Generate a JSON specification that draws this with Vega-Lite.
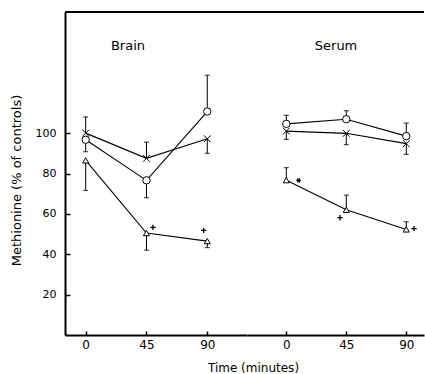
{
  "$schema": "https://vega.github.io/schema/vega-lite/v6.json",
  "background": "white",
  "padding": {"left": 10, "top": 11, "right": 0, "bottom": 0},
  "bounds": "flush",
  "config": {
    "view": {"stroke": null},
    "font": "DejaVu Sans"
  },
  "datasets": {
    "pts": [
      {"panel": "Brain", "series": "circle", "time": 0, "value": 96.7, "err": 90.8},
      {"panel": "Brain", "series": "circle", "time": 45, "value": 76.6, "err": 68},
      {"panel": "Brain", "series": "circle", "time": 90, "value": 110.7, "err": 128.7},
      {"panel": "Brain", "series": "cross", "time": 0, "value": 100, "err": 108},
      {"panel": "Brain", "series": "cross", "time": 45, "value": 87.5, "err": 95.5},
      {"panel": "Brain", "series": "cross", "time": 90, "value": 97.2, "err": 90},
      {"panel": "Brain", "series": "triangle", "time": 0, "value": 86.5, "err": 71.6},
      {"panel": "Brain", "series": "triangle", "time": 45, "value": 50.5, "err": 42},
      {"panel": "Brain", "series": "triangle", "time": 90, "value": 46.5, "err": 43.3},
      {"panel": "Serum", "series": "circle", "time": 0, "value": 104.6, "err": 108.8},
      {"panel": "Serum", "series": "circle", "time": 45, "value": 106.9, "err": 111.1},
      {"panel": "Serum", "series": "circle", "time": 90, "value": 98.5, "err": 105},
      {"panel": "Serum", "series": "cross", "time": 0, "value": 101, "err": 96.9},
      {"panel": "Serum", "series": "cross", "time": 45, "value": 99.9, "err": 94.3},
      {"panel": "Serum", "series": "cross", "time": 90, "value": 94.8, "err": 89.5},
      {"panel": "Serum", "series": "triangle", "time": 0, "value": 76.7, "err": 82.9},
      {"panel": "Serum", "series": "triangle", "time": 45, "value": 62, "err": 69.3},
      {"panel": "Serum", "series": "triangle", "time": 90, "value": 52.3, "err": 56.1}
    ],
    "ann": [
      {"panel": "Brain", "series": "plus", "time": 49.8, "value": 53.3},
      {"panel": "Brain", "series": "plus", "time": 87.3, "value": 51.8},
      {"panel": "Serum", "series": "star", "time": 9.2, "value": 76.6},
      {"panel": "Serum", "series": "plus", "time": 40.3, "value": 58.1},
      {"panel": "Serum", "series": "plus", "time": 95.8, "value": 52.7}
    ],
    "lab": [
      {"panel": "Brain", "label": "Brain", "time": 31.3, "value": 143.3},
      {"panel": "Serum", "label": "Serum", "time": 37.3, "value": 143.3}
    ]
  },
  "spacing": 0,
  "hconcat": [
    {
      "width": 182,
      "height": 323,
      "layer": [
        {
          "data": {"name": "pts"},
          "transform": [{"filter": "datum.panel == 'Brain'"}],
          "mark": {"type": "line", "color": "black", "strokeWidth": 1.1},
          "encoding": {
            "x": {"field": "time", "type": "quantitative", "scale": {"domain": [-15.3, 119.4], "nice": false},
              "axis": {"values": [0, 45, 90], "grid": false, "tickSize": -4, "tickWidth": 1.5, "tickColor": "black",
                "domainWidth": 2, "domainColor": "black", "labelFont": "DejaVu Sans", "labelFontSize": 12, "labelColor": "black",
                "labelPadding": 8, "title": "Time (minutes)", "titleX": 188, "titleFont": "DejaVu Sans", "titleFontSize": 12,
                "titleFontWeight": "normal", "titleColor": "black", "titlePadding": 12}},
            "y": {"field": "value", "type": "quantitative", "scale": {"domain": [0, 160], "nice": false},
              "axis": {"values": [20, 40, 60, 80, 100], "grid": false, "tickSize": -5, "tickWidth": 1.5, "tickColor": "black",
                "domainWidth": 2, "domainColor": "black", "labelFont": "DejaVu Sans", "labelFontSize": 11, "labelColor": "black",
                "labelPadding": 14, "title": "Methionine (% of controls)", "titleFont": "DejaVu Sans", "titleFontSize": 13,
                "titleFontWeight": "normal", "titleColor": "black", "titlePadding": 12, "titleY": 168}},
            "detail": {"field": "series"}
          }
        },
        {
          "data": {"values": [{}]},
          "mark": {"type": "rule", "color": "black", "strokeWidth": 2},
          "encoding": {"y": {"datum": 160, "type": "quantitative"}}
        },
        {
          "data": {"name": "pts"},
          "transform": [{"filter": "datum.panel == 'Brain'"}],
          "mark": {"type": "rule", "color": "black", "strokeWidth": 1},
          "encoding": {
            "x": {"field": "time", "type": "quantitative"},
            "y": {"field": "value", "type": "quantitative"},
            "y2": {"field": "err"}
          }
        },
        {
          "data": {"name": "pts"},
          "transform": [{"filter": "datum.panel == 'Brain'"}],
          "mark": {"type": "tick", "orient": "horizontal", "color": "black", "thickness": 1.2, "size": 5},
          "encoding": {
            "x": {"field": "time", "type": "quantitative"},
            "y": {"field": "err", "type": "quantitative"}
          }
        },
        {
          "data": {"name": "pts"},
          "transform": [{"filter": "datum.panel == 'Brain'"}],
          "mark": {"type": "point", "filled": true, "fill": "white", "stroke": "black", "strokeWidth": 1, "opacity": 1},
          "encoding": {
            "x": {"field": "time", "type": "quantitative"},
            "y": {"field": "value", "type": "quantitative"},
            "shape": {"field": "series", "scale": {"domain": ["circle", "cross", "triangle", "plus", "star"], "range": ["circle", "M-1,-1L1,1M-1,1L1,-1", "triangle-up", "M-1,0L1,0M0,-1L0,1", "M-1,0L1,0M-0.5,-0.87L0.5,0.87M-0.5,0.87L0.5,-0.87"]}, "legend": null},
            "size": {"field": "series", "type": "nominal", "scale": {"domain": ["circle", "cross", "triangle", "plus", "star"], "range": [55, 20, 110, 49, 25]}, "legend": null}
          }
        },
        {
          "data": {"name": "ann"},
          "transform": [{"filter": "datum.panel == 'Brain'"}],
          "mark": {"type": "point", "filled": false, "stroke": "black", "strokeWidth": 1.3, "opacity": 1},
          "encoding": {
            "x": {"field": "time", "type": "quantitative"},
            "y": {"field": "value", "type": "quantitative"},
            "shape": {"field": "series", "scale": {"domain": ["circle", "cross", "triangle", "plus", "star"], "range": ["circle", "M-1,-1L1,1M-1,1L1,-1", "triangle-up", "M-1,0L1,0M0,-1L0,1", "M-1,0L1,0M-0.5,-0.87L0.5,0.87M-0.5,0.87L0.5,-0.87"]}, "legend": null},
            "size": {"field": "series", "type": "nominal", "scale": {"domain": ["circle", "cross", "triangle", "plus", "star"], "range": [55, 20, 110, 49, 25]}, "legend": null}
          }
        },
        {
          "data": {"name": "lab"},
          "transform": [{"filter": "datum.panel == 'Brain'"}],
          "mark": {"type": "text", "font": "DejaVu Sans", "fontSize": 13, "color": "black", "align": "center", "baseline": "middle"},
          "encoding": {
            "x": {"field": "time", "type": "quantitative"},
            "y": {"field": "value", "type": "quantitative"},
            "text": {"field": "label"}
          }
        }
      ]
    },
    {
      "width": 177,
      "height": 323,
      "layer": [
        {
          "data": {"name": "pts"},
          "transform": [{"filter": "datum.panel == 'Serum'"}],
          "mark": {"type": "line", "color": "black", "strokeWidth": 1.1},
          "encoding": {
            "x": {"field": "time", "type": "quantitative", "scale": {"domain": [-29.5, 103.3], "nice": false},
              "axis": {"values": [0, 45, 90], "grid": false, "tickSize": -4, "tickWidth": 1.5, "tickColor": "black",
                "domainWidth": 2, "domainColor": "black", "labelFont": "DejaVu Sans", "labelFontSize": 12, "labelColor": "black",
                "labelPadding": 8, "title": null}},
            "y": {"field": "value", "type": "quantitative", "scale": {"domain": [0, 160], "nice": false}, "axis": null},
            "detail": {"field": "series"}
          }
        },
        {
          "data": {"values": [{}]},
          "mark": {"type": "rule", "color": "black", "strokeWidth": 2},
          "encoding": {"y": {"datum": 160, "type": "quantitative"}}
        },
        {
          "data": {"name": "pts"},
          "transform": [{"filter": "datum.panel == 'Serum'"}],
          "mark": {"type": "rule", "color": "black", "strokeWidth": 1},
          "encoding": {
            "x": {"field": "time", "type": "quantitative"},
            "y": {"field": "value", "type": "quantitative"},
            "y2": {"field": "err"}
          }
        },
        {
          "data": {"name": "pts"},
          "transform": [{"filter": "datum.panel == 'Serum'"}],
          "mark": {"type": "tick", "orient": "horizontal", "color": "black", "thickness": 1.2, "size": 5},
          "encoding": {
            "x": {"field": "time", "type": "quantitative"},
            "y": {"field": "err", "type": "quantitative"}
          }
        },
        {
          "data": {"name": "pts"},
          "transform": [{"filter": "datum.panel == 'Serum'"}],
          "mark": {"type": "point", "filled": true, "fill": "white", "stroke": "black", "strokeWidth": 1, "opacity": 1},
          "encoding": {
            "x": {"field": "time", "type": "quantitative"},
            "y": {"field": "value", "type": "quantitative"},
            "shape": {"field": "series", "scale": {"domain": ["circle", "cross", "triangle", "plus", "star"], "range": ["circle", "M-1,-1L1,1M-1,1L1,-1", "triangle-up", "M-1,0L1,0M0,-1L0,1", "M-1,0L1,0M-0.5,-0.87L0.5,0.87M-0.5,0.87L0.5,-0.87"]}, "legend": null},
            "size": {"field": "series", "type": "nominal", "scale": {"domain": ["circle", "cross", "triangle", "plus", "star"], "range": [55, 20, 110, 49, 25]}, "legend": null}
          }
        },
        {
          "data": {"name": "ann"},
          "transform": [{"filter": "datum.panel == 'Serum'"}],
          "mark": {"type": "point", "filled": false, "stroke": "black", "strokeWidth": 1.3, "opacity": 1},
          "encoding": {
            "x": {"field": "time", "type": "quantitative"},
            "y": {"field": "value", "type": "quantitative"},
            "shape": {"field": "series", "scale": {"domain": ["circle", "cross", "triangle", "plus", "star"], "range": ["circle", "M-1,-1L1,1M-1,1L1,-1", "triangle-up", "M-1,0L1,0M0,-1L0,1", "M-1,0L1,0M-0.5,-0.87L0.5,0.87M-0.5,0.87L0.5,-0.87"]}, "legend": null},
            "size": {"field": "series", "type": "nominal", "scale": {"domain": ["circle", "cross", "triangle", "plus", "star"], "range": [55, 20, 110, 49, 25]}, "legend": null}
          }
        },
        {
          "data": {"name": "lab"},
          "transform": [{"filter": "datum.panel == 'Serum'"}],
          "mark": {"type": "text", "font": "DejaVu Sans", "fontSize": 13, "color": "black", "align": "center", "baseline": "middle"},
          "encoding": {
            "x": {"field": "time", "type": "quantitative"},
            "y": {"field": "value", "type": "quantitative"},
            "text": {"field": "label"}
          }
        }
      ]
    }
  ]
}
